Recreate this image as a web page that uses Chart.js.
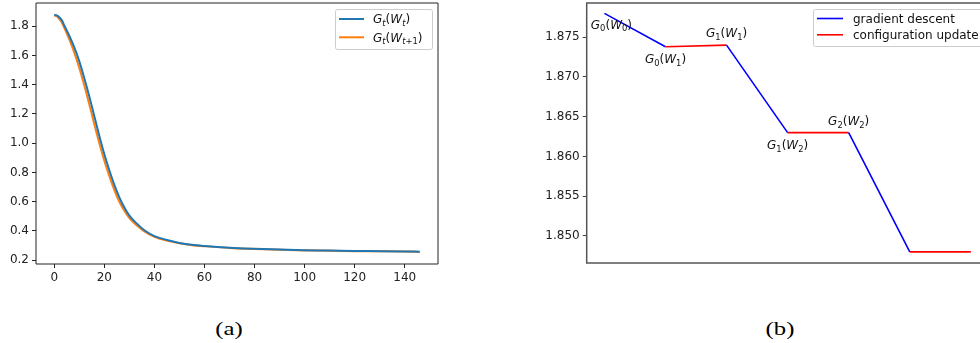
<!DOCTYPE html>
<html>
<head>
<meta charset="utf-8">
<script src="https://cdn.jsdelivr.net/npm/chart.js@4.4.1/dist/chart.umd.min.js"></script>
<style>
  body { margin: 0; background: #fff; width: 980px; height: 343px; overflow: hidden; position: relative; font-family: "DejaVu Sans"; }
  .caja { position: absolute; top: 0; height: 300px; }
  .cap { position: absolute; top: 318px; font-family: "Liberation Serif"; font-size: 19px; line-height: 22px; transform: translateX(-50%) scaleX(1.3); color: #000; }
</style>
</head>
<body>
<div class="caja" style="left:0;width:450px"><canvas id="graficoA"></canvas></div>
<div class="caja" style="left:540px;width:440px"><canvas id="graficoB"></canvas></div>
<div class="cap" style="left:229px">(a)</div>
<div class="cap" style="left:780px">(b)</div>
<script>
// ---- datos (a): G_t(W_t) y G_t(W_{t+1}) por iteracion
const iteraciones = [0, 1, 2, 3, 4, 6, 8, 10, 12, 14, 16, 18, 20, 22, 24, 26, 28, 30, 33, 36, 40, 45, 50, 55, 60, 70, 80, 90, 100, 110, 120, 130, 140, 146];
const gtWt = [1.878, 1.875, 1.862, 1.842, 1.805, 1.735, 1.655, 1.56, 1.445, 1.32, 1.185, 1.05, 0.925, 0.815, 0.715, 0.63, 0.56, 0.505, 0.45, 0.405, 0.365, 0.338, 0.318, 0.305, 0.297, 0.285, 0.278, 0.273, 0.268, 0.266, 0.263, 0.262, 0.26, 0.258];
const gtWt1 = [1.874, 1.868, 1.85, 1.825, 1.79, 1.71, 1.62, 1.515, 1.395, 1.265, 1.13, 1.0, 0.88, 0.775, 0.68, 0.6, 0.538, 0.488, 0.437, 0.397, 0.36, 0.334, 0.316, 0.303, 0.296, 0.284, 0.277, 0.272, 0.267, 0.265, 0.262, 0.261, 0.259, 0.256];
const ticksXA = [0, 20, 40, 60, 80, 100, 120, 140];
const ticksYA = [0.2, 0.4, 0.6, 0.8, 1.0, 1.2, 1.4, 1.6, 1.8];

// ---- datos (b): pasos alternos de descenso y actualizacion
const pasos = [0, 1, 2, 3, 4, 5, 6];
const valoresB = [1.878, 1.8738, 1.874, 1.863, 1.863, 1.848, 1.848];
const tipoTramo = ['gd', 'cu', 'gd', 'cu', 'gd', 'cu']; //? tramo entre paso i y i+1
const etiquetasB = ['G_0(W_0)', 'G_0(W_1)', 'G_1(W_1)', 'G_1(W_2)', 'G_2(W_2)'];
const ticksYB = [1.850, 1.855, 1.860, 1.865, 1.870, 1.875];

const FUENTE = '"DejaVu Sans"';

// texto matematico sencillo: letras en cursiva, _x o _{..} como subindice
function partesMath(s) {
  const out = [];
  let i = 0;
  while (i < s.length) {
    if (s[i] === '_') {
      let sub;
      if (s[i + 1] === '{') { const j = s.indexOf('}', i); sub = s.slice(i + 2, j); i = j + 1; }
      else { sub = s[i + 1]; i += 2; }
      for (const ch of sub) out.push({ ch, sub: true });
    } else { out.push({ ch: s[i], sub: false }); i++; }
  }
  return out;
}
function fuenteDe(p, size) {
  const sz = p.sub ? size * 0.7 : size;
  return (/[A-Za-z]/.test(p.ch) ? 'italic ' : '') + sz + 'px ' + FUENTE;
}
function anchoMath(ctx, s, size) {
  let w = 0;
  for (const p of partesMath(s)) { ctx.font = fuenteDe(p, size); w += ctx.measureText(p.ch).width; }
  return w;
}
function dibujarMath(ctx, s, x, yCentro, size, align) {
  ctx.save();
  ctx.fillStyle = '#111';
  ctx.textBaseline = 'alphabetic';
  ctx.textAlign = 'left';
  const base = yCentro + size * 0.36;
  if (s.indexOf('_') < 0) { //? texto normal, sin cursiva
    ctx.font = size + 'px ' + FUENTE;
    ctx.textAlign = align;
    ctx.fillText(s, x, base);
    ctx.restore();
    return;
  }
  let cx = align === 'center' ? x - anchoMath(ctx, s, size) / 2 : x;
  for (const p of partesMath(s)) {
    ctx.font = fuenteDe(p, size);
    ctx.fillText(p.ch, cx, p.sub ? base + size * 0.22 : base);
    cx += ctx.measureText(p.ch).width;
  }
  ctx.restore();
}

// marco del area de trazado
const marco = {
  id: 'marco',
  afterDraw(chart, args, opts) {
    const { ctx, chartArea: a } = chart;
    ctx.save();
    ctx.strokeStyle = opts.color;
    ctx.lineWidth = opts.width;
    ctx.beginPath();
    ctx.moveTo(a.right, a.bottom); ctx.lineTo(a.left, a.bottom); ctx.lineTo(a.left, a.top); ctx.lineTo(a.right, a.top);
    if (opts.derecha) ctx.lineTo(a.right, a.bottom);
    ctx.stroke();
    ctx.restore();
  }
};

// leyenda propia (para poder usar subindices)
const leyenda = {
  id: 'leyenda',
  afterDraw(chart, args, opts) {
    const ctx = chart.ctx;
    ctx.save();
    ctx.fillStyle = 'rgba(255,255,255,0.85)';
    ctx.strokeStyle = '#cccccc';
    ctx.lineWidth = 1;
    ctx.beginPath();
    ctx.roundRect(opts.x + 0.5, opts.y + 0.5, opts.w, opts.h, 2);
    ctx.fill(); ctx.stroke();
    chart.data.datasets.forEach((ds, i) => {
      const y = opts.y + opts.fila0 + i * opts.paso;
      ctx.strokeStyle = ds.borderColor;
      ctx.lineWidth = ds.borderWidth;
      ctx.beginPath();
      ctx.moveTo(opts.x + opts.linea[0], y); ctx.lineTo(opts.x + opts.linea[1], y);
      ctx.stroke();
      dibujarMath(ctx, ds.label, opts.x + opts.texto, y, 12, 'left');
    });
    ctx.restore();
  }
};

// etiquetas G_k(W_k) junto a los puntos de (b)
const anotaciones = {
  id: 'anotaciones',
  afterDraw(chart, args, opts) {
    const xs = chart.scales.x, ys = chart.scales.y;
    etiquetasB.forEach((txt, i) => {
      const d = opts.desp[i];
      dibujarMath(chart.ctx, txt, xs.getPixelForValue(pasos[i]) + d[0], ys.getPixelForValue(valoresB[i]) + d[1], 12, 'center');
    });
  }
};

const ejeComun = {
  ticks: { color: '#222', font: { family: FUENTE, size: 12 }, padding: 3 },
  grid: { drawOnChartArea: false, drawTicks: true, tickLength: 4, color: '#222', tickWidth: 1 },
  border: { display: false },
};

function soloTicks(lista) {
  return function (scale) { scale.ticks = lista.map(v => ({ value: v })); };
}
function ajustar(prop, tam) {
  return function (s) {
    s[prop] = tam;
    s.paddingTop = 0; s.paddingBottom = 0; s.paddingLeft = 0; s.paddingRight = 0;
  };
}

// ---- grafico (a)
new Chart(document.getElementById('graficoA'), {
  type: 'line',
  data: {
    datasets: [
      { label: 'G_t(W_t)', data: iteraciones.map((x, i) => ({ x, y: gtWt[i] })), borderColor: '#1f77b4', borderWidth: 2 },
      { label: 'G_t(W_{t+1})', data: iteraciones.map((x, i) => ({ x, y: gtWt1[i] })), borderColor: '#ff7f0e', borderWidth: 2 },
    ],
  },
  options: {
    responsive: true, maintainAspectRatio: false, animation: false, devicePixelRatio: 1,
    layout: { padding: { top: 3, right: 12, left: 0, bottom: 0 } },
    elements: { point: { radius: 0 }, line: { cubicInterpolationMode: 'monotone', fill: false } },
    scales: {
      x: {
        ...ejeComun, type: 'linear', min: -7.3, max: 153.3,
        afterBuildTicks: soloTicks(ticksXA),
        afterFit: ajustar('height', 36),
        ticks: { ...ejeComun.ticks, maxRotation: 0, callback: v => String(v) },
      },
      y: {
        ...ejeComun, min: 0.174, max: 1.959,
        afterBuildTicks: soloTicks(ticksYA),
        afterFit: ajustar('width', 36),
        ticks: { ...ejeComun.ticks, callback: v => v.toFixed(1) },
      },
    },
    plugins: {
      legend: { display: false }, tooltip: { enabled: false },
      marco: { color: '#222', width: 1, derecha: true },
      leyenda: { x: 335, y: 9, w: 97, h: 40, fila0: 10, paso: 18.3, linea: [4, 29], texto: 38 },
    },
  },
  plugins: [marco, leyenda],
});

// ---- grafico (b)
function tramos(tipo) {
  const out = [];
  tipoTramo.forEach((t, i) => {
    if (t !== tipo) return;
    out.push({ x: pasos[i], y: valoresB[i] }, { x: pasos[i + 1], y: valoresB[i + 1] }, { x: pasos[i + 1], y: null });
  });
  return out;
}

new Chart(document.getElementById('graficoB'), {
  type: 'line',
  data: {
    datasets: [
      { label: 'gradient descent', data: tramos('gd'), borderColor: '#0000ff', borderWidth: 1.6 },
      { label: 'configuration update', data: tramos('cu'), borderColor: '#ff0000', borderWidth: 1.6 },
    ],
  },
  options: {
    responsive: true, maintainAspectRatio: false, animation: false, devicePixelRatio: 1,
    layout: { padding: { top: 3, right: 0, left: 0, bottom: 37 } },
    elements: { point: { radius: 0 }, line: { tension: 0, fill: false } },
    spanGaps: false,
    scales: {
      x: { type: 'linear', display: false, min: -0.29, max: 6.15 },
      y: {
        ...ejeComun, min: 1.8466, max: 1.8793,
        afterBuildTicks: soloTicks(ticksYB),
        afterFit: ajustar('width', 46.7),
        ticks: { ...ejeComun.ticks, callback: v => v.toFixed(3) },
        grid: { ...ejeComun.grid, color: '#444' },
      },
    },
    plugins: {
      legend: { display: false }, tooltip: { enabled: false },
      marco: { color: '#555', width: 1.5, derecha: false },
      leyenda: { x: 273, y: 9, w: 180, h: 37, fila0: 9.5, paso: 16.3, linea: [4, 30], texto: 40 },
      anotaciones: { desp: [[7, 11], [0, 12], [0, -12], [0, 12], [0, -12]] },
    },
  },
  plugins: [marco, leyenda, anotaciones],
});
</script>
</body>
</html>
